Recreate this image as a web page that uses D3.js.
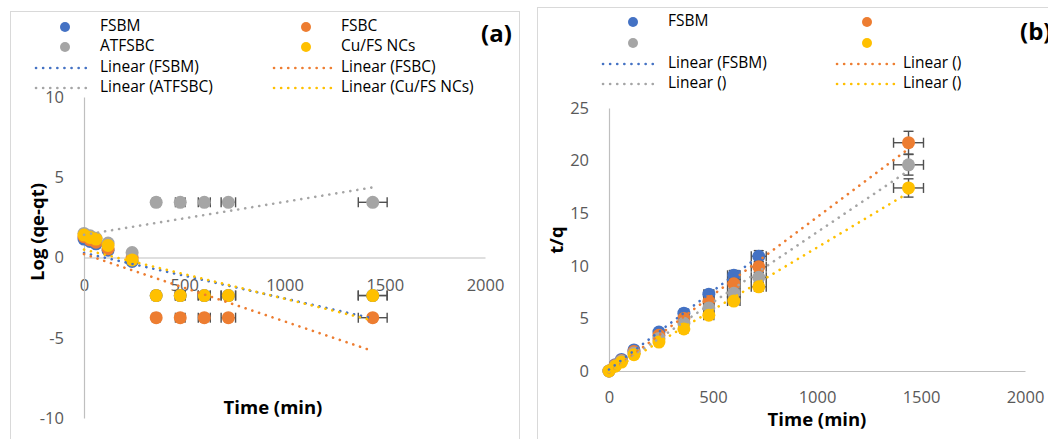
<!DOCTYPE html>
<html>
<head>
<meta charset="utf-8">
<script src="https://cdn.jsdelivr.net/npm/d3@7"></script>
<style>
  body { margin: 0; background: #fff; }
  svg { display: block; font-family: "Open Sans", sans-serif; }
</style>
</head>
<body>
<div id="chart"></div>
<script>
const times = [0, 30, 60, 120, 240, 360, 480, 600, 720, 1440];
const seriesNames = ["FSBM", "FSBC", "ATFSBC", "Cu/FS NCs"];
const colors = ["#4472C4", "#ED7D31", "#A5A5A5", "#FFC000"];

// panel (a): log(qe-qt)
const logFSBM = [1.15, 1.0, 0.85, 0.45, -0.25, -2.37, -2.37, -2.37, -2.37, -2.37];
const logFSBC = [1.3, 1.1, 0.95, 0.55, 0.0, -3.75, -3.75, -3.75, -3.75, -3.75];
const logATFSBC = [1.5, 1.35, 1.2, 0.9, 0.31, 3.44, 3.44, 3.44, 3.44, 3.44];
const logCuFS = [1.4, 1.25, 1.15, 0.75, -0.15, -2.37, -2.37, -2.37, -2.37, -2.37];

// panel (b): t/q  (FSBM has no 1440 point)
const tqFSBM = [0, 0.6, 1.1, 2.0, 3.7, 5.5, 7.3, 9.1, 10.9];
const tqFSBC = [0, 0.55, 1.0, 1.85, 3.4, 5.0, 6.6, 8.3, 9.9, 21.7];
const tqATFSBC = [0, 0.5, 0.95, 1.7, 3.1, 4.55, 6.0, 7.4, 8.9, 19.6];
const tqCuFS = [0, 0.45, 0.85, 1.55, 2.75, 4.0, 5.3, 6.65, 8.0, 17.4];

const xTicks = [0, 500, 1000, 1500, 2000];
const logTicks = [-10, -5, 0, 5, 10];
const tqTicks = [0, 5, 10, 15, 20, 25];

const legendA = ["FSBM", "FSBC", "ATFSBC", "Cu/FS NCs"];
const legendB = ["FSBM", "", "", ""];

const width = 1048, height = 439;
const svg = d3.select("#chart").append("svg")
  .attr("width", width).attr("height", height);

// frames
svg.append("rect").attr("x", 10.5).attr("y", 11.5).attr("width", 509).attr("height", 440)
  .attr("fill", "none").attr("stroke", "#D9D9D9");
svg.append("rect").attr("x", 537.5).attr("y", 7.5).attr("width", 520).attr("height", 440)
  .attr("fill", "none").attr("stroke", "#D9D9D9");

function fit(xs, ys) {
  const n = ys.length;
  const mx = d3.mean(xs.slice(0, n)), my = d3.mean(ys);
  let sxy = 0, sxx = 0;
  for (let i = 0; i < n; i++) {
    sxy += (xs[i] - mx) * (ys[i] - my);
    sxx += (xs[i] - mx) ** 2;
  }
  const b = sxy / sxx;
  return { a: my - b * mx, b: b, x0: xs[0], x1: xs[n - 1] };
}

function drawPanel(cfg) {
  const g = svg.append("g");
  const x = d3.scaleLinear().domain([0, 2000]).range(cfg.xRange);
  const y = d3.scaleLinear().domain(cfg.yDomain).range(cfg.yRange);

  const xAxis = g.append("g")
    .attr("transform", `translate(0,${y(0)})`)
    .call(d3.axisBottom(x).tickValues(xTicks).tickFormat(d => String(d))
      .tickSize(0).tickPadding(cfg.xPad));
  const yAxis = g.append("g")
    .attr("transform", `translate(${x(0)},0)`)
    .call(d3.axisLeft(y).tickValues(cfg.yTicks).tickFormat(d => String(d))
      .tickSize(0).tickPadding(20));
  [xAxis, yAxis].forEach(ax => {
    ax.select(".domain").attr("stroke", "#BFBFBF").attr("stroke-width", 1.2);
    ax.selectAll("text").attr("fill", "#595959").style("font-size", "16.5px")
      .style("font-family", "'Open Sans', sans-serif");
  });

  // error bars + markers, series by series
  cfg.data.forEach((ys, s) => {
    const pts = ys.map((v, i) => ({ t: times[i], v: v }));
    const eb = g.append("g").attr("stroke", "#505050").attr("stroke-width", 1.4);
    pts.forEach(p => {
      const ex = p.t * 0.05, ey = Math.abs(p.v) * 0.05;
      const cx = x(p.t), cy = y(p.v);
      if (x(p.t + ex) - cx > 1) {
        eb.append("line").attr("x1", x(p.t - ex)).attr("x2", x(p.t + ex)).attr("y1", cy).attr("y2", cy);
        eb.append("line").attr("x1", x(p.t - ex)).attr("x2", x(p.t - ex)).attr("y1", cy - 5).attr("y2", cy + 5);
        eb.append("line").attr("x1", x(p.t + ex)).attr("x2", x(p.t + ex)).attr("y1", cy - 5).attr("y2", cy + 5);
      }
      if (cy - y(p.v + ey) > 1) {
        const y0 = y(p.v - ey), y1 = y(p.v + ey);
        eb.append("line").attr("x1", cx).attr("x2", cx).attr("y1", y0).attr("y2", y1);
        eb.append("line").attr("x1", cx - 5).attr("x2", cx + 5).attr("y1", y0).attr("y2", y0);
        eb.append("line").attr("x1", cx - 5).attr("x2", cx + 5).attr("y1", y1).attr("y2", y1);
      }
    });
    g.append("g").selectAll("circle").data(pts).join("circle")
      .attr("cx", d => x(d.t)).attr("cy", d => y(d.v)).attr("r", 6.5)
      .attr("fill", colors[s]);
  });

  // linear trendlines
  cfg.data.forEach((ys, s) => {
    const f = fit(times, ys);
    g.append("line")
      .attr("x1", x(f.x0)).attr("y1", y(f.a + f.b * f.x0))
      .attr("x2", x(f.x1)).attr("y2", y(f.a + f.b * f.x1))
      .attr("stroke", colors[s]).attr("stroke-width", 2.6)
      .attr("stroke-linecap", "round").attr("stroke-dasharray", "0.1 7");
  });

  // axis titles
  g.append("text").attr("x", cfg.xTitle[0]).attr("y", cfg.xTitle[1])
    .attr("text-anchor", "middle").attr("dominant-baseline", "middle")
    .style("font-size", "18.5px").style("font-weight", "bold").text("Time (min)");
  g.append("text")
    .attr("transform", `translate(${cfg.yTitle[0]},${cfg.yTitle[1]}) rotate(-90)`)
    .attr("text-anchor", "middle").attr("dominant-baseline", "middle")
    .style("font-size", "18.5px").style("font-weight", "bold").text(cfg.yLabel);

  // legend
  const lg = g.append("g").style("font-size", "15.5px");
  [0, 1, 2, 3].forEach(s => {
    const col = s % 2, row = Math.floor(s / 2);
    const cx = cfg.leg.cols[col], ry = cfg.leg.rows[row];
    lg.append("circle").attr("cx", cx.m).attr("cy", ry).attr("r", 5).attr("fill", colors[s]);
    lg.append("text").attr("x", cx.t).attr("y", ry).attr("dominant-baseline", "middle")
      .text(cfg.names[s]);
    const ly = cfg.leg.rows[row + 2];
    lg.append("line").attr("x1", cx.l0).attr("x2", cx.l1).attr("y1", ly).attr("y2", ly)
      .attr("stroke", colors[s]).attr("stroke-width", 2.6)
      .attr("stroke-linecap", "round").attr("stroke-dasharray", "0.1 7");
    lg.append("text").attr("x", cx.t).attr("y", ly).attr("dominant-baseline", "middle")
      .text(`Linear (${cfg.names[s]})`);
  });

  g.append("text").attr("x", cfg.tag[0]).attr("y", cfg.tag[1])
    .attr("dominant-baseline", "middle")
    .style("font-size", "24px").style("font-weight", "bold").text(cfg.tagText);
}

drawPanel({
  xRange: [84, 485], yDomain: [-10, 10], yRange: [418, 97], yTicks: logTicks, xPad: 22,
  data: [logFSBM, logFSBC, logATFSBC, logCuFS],
  xTitle: [273, 409], yTitle: [39, 232], yLabel: "Log (qe-qt)",
  names: legendA,
  leg: { rows: [27, 47, 68, 88],
         cols: [{ m: 65, t: 100, l0: 36, l1: 91 }, { m: 306, t: 341, l0: 274, l1: 333 }] },
  tag: [481, 36], tagText: "(a)"
});

drawPanel({
  xRange: [609, 1025], yDomain: [0, 25], yRange: [371, 108], yTicks: tqTicks, xPad: 20,
  data: [tqFSBM, tqFSBC, tqATFSBC, tqCuFS],
  xTitle: [817, 421], yTitle: [558, 240], yLabel: "t/q",
  names: legendB,
  leg: { rows: [22, 43, 64, 84],
         cols: [{ m: 633, t: 668, l0: 603, l1: 659 }, { m: 867, t: 903, l0: 837, l1: 894 }] },
  tag: [1020, 34], tagText: "(b)"
});
</script>
</body>
</html>
